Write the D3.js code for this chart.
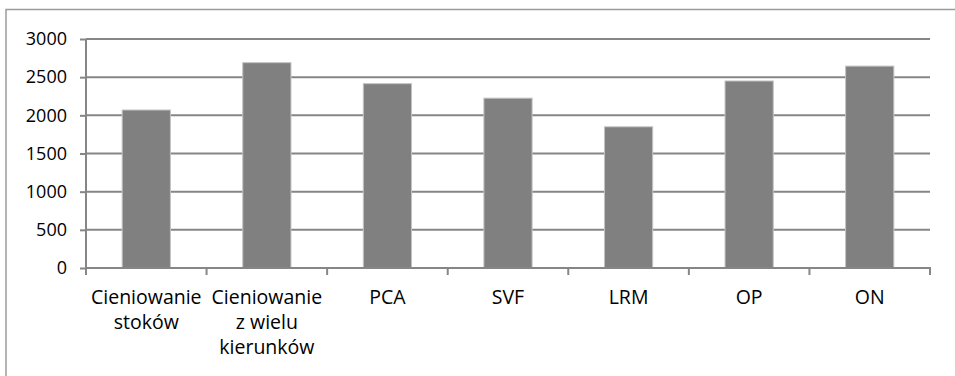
<!DOCTYPE html>
<html>
<head>
<meta charset="utf-8">
<script src="https://cdn.jsdelivr.net/npm/d3@7"></script>
<style>
  html, body { margin: 0; padding: 0; background: #fff; }
  svg { display: block; }
  text { font-family: "Open Sans", "Noto Sans", sans-serif; fill: #000; }
</style>
</head>
<body>
<svg id="chart" width="955" height="376"></svg>
<script>
// Category names ("\n" marks the wrapped label lines)
const categories = [
  "Cieniowanie\nstoków",
  "Cieniowanie\nz wielu\nkierunków",
  "PCA",
  "SVF",
  "LRM",
  "OP",
  "ON"
];
// Bar values
const values = [2070, 2690, 2415, 2225, 1850, 2450, 2645];
// Value axis ticks
const yTicks = [0, 500, 1000, 1500, 2000, 2500, 3000];

const svg = d3.select("#chart");
const W = 955, H = 376;
const plot = { left: 86, right: 930, top: 39, bottom: 268 };
const gridColor = "#868686";

// Chart frame
svg.append("rect")
  .attr("x", 6).attr("y", 9.5)
  .attr("width", W + 10).attr("height", H + 10)
  .attr("fill", "none")
  .attr("stroke", "#9c9c9c")
  .attr("stroke-width", 1.5);

const x = d3.scaleBand()
  .domain(categories)
  .range([plot.left, plot.right])
  .paddingInner(0.6)
  .paddingOuter(0.3);

const y = d3.scaleLinear()
  .domain([0, 3000])
  .range([plot.bottom, plot.top]);

// Horizontal gridlines
svg.append("g")
  .selectAll("line")
  .data(yTicks.filter(d => d > 0))
  .join("line")
  .attr("x1", plot.left).attr("x2", plot.right)
  .attr("y1", d => y(d)).attr("y2", d => y(d))
  .attr("stroke", gridColor)
  .attr("stroke-width", 2);

// Bars
svg.append("g")
  .selectAll("rect")
  .data(values)
  .join("rect")
  .attr("x", (d, i) => x(categories[i]))
  .attr("y", d => y(d))
  .attr("width", x.bandwidth())
  .attr("height", d => y(0) - y(d))
  .attr("fill", "#808080")
  .attr("stroke", "#c4c4c4")
  .attr("stroke-width", 1);

// Value axis
const yAxis = d3.axisLeft(y)
  .tickValues(yTicks)
  .tickSize(6)
  .tickPadding(13)
  .tickFormat(d3.format("d"));

const yg = svg.append("g")
  .attr("transform", `translate(${plot.left},0)`)
  .call(yAxis);
yg.select(".domain")
  .attr("stroke", gridColor)
  .attr("stroke-width", 2)
  .attr("d", `M0,${plot.top}V${plot.bottom}`);
yg.selectAll(".tick line").attr("stroke", gridColor).attr("stroke-width", 2);
yg.selectAll(".tick text")
  .attr("font-size", 18)
  .attr("font-family", "\"Open Sans\", sans-serif")
  .attr("fill", "#000");

// Category axis line and boundary ticks
const step = x.step();
const boundaries = d3.range(categories.length + 1).map(i => plot.left + i * step);
const xg = svg.append("g");
xg.append("line")
  .attr("x1", plot.left - 1).attr("x2", plot.right + 1)
  .attr("y1", plot.bottom).attr("y2", plot.bottom)
  .attr("stroke", gridColor).attr("stroke-width", 2);
xg.selectAll("line.tick")
  .data(boundaries)
  .join("line")
  .attr("class", "tick")
  .attr("x1", d => d).attr("x2", d => d)
  .attr("y1", plot.bottom).attr("y2", plot.bottom + 7)
  .attr("stroke", gridColor).attr("stroke-width", 2);

// Category labels
const labels = xg.selectAll("text")
  .data(categories)
  .join("text")
  .attr("text-anchor", "middle")
  .attr("font-size", 19.5)
  .attr("x", d => x(d) + x.bandwidth() / 2)
  .attr("y", 304);
labels.selectAll("tspan")
  .data(d => d.split("\n").map((t, i) => ({ t, i })))
  .join("tspan")
  .attr("x", function () { return this.parentNode.getAttribute("x"); })
  .attr("y", d => 304 + d.i * 25)
  .text(d => d.t);
</script>
</body>
</html>
